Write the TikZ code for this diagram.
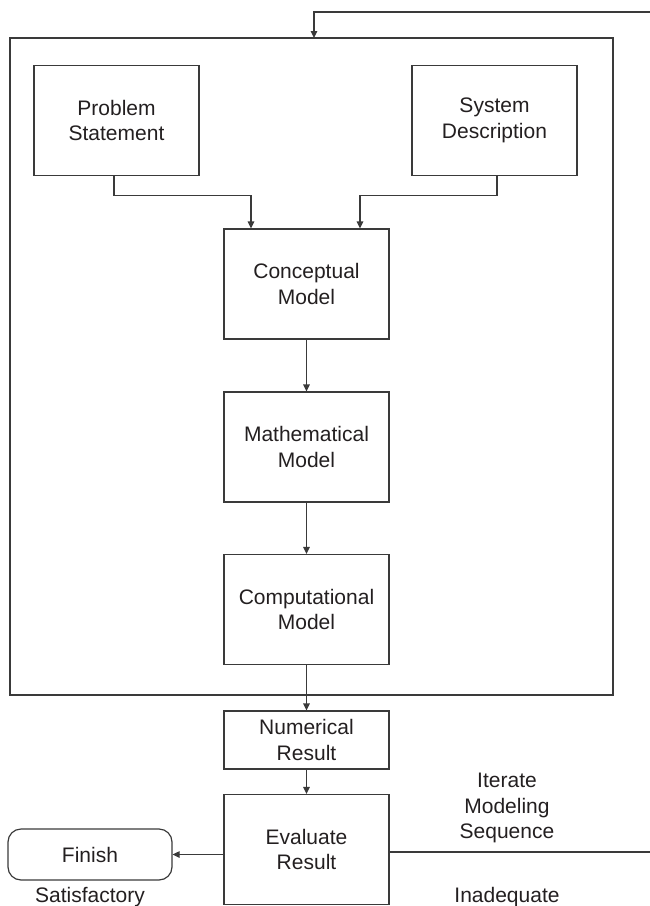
\documentclass[tikz,border=0pt]{standalone}
\usepackage{fontspec}
\setmainfont{Liberation Sans}
\usetikzlibrary{arrows.meta}
\definecolor{ink}{HTML}{231F20}
\definecolor{wire}{HTML}{3A3A3A}
\begin{document}
\begin{tikzpicture}[x=1pt,y=-1pt,
  every node/.style={text=ink,font=\fontsize{21}{25.5}\selectfont},
  stage/.style={draw=wire,line width=1.2pt,align=center,inner sep=0pt,
    minimum width=165pt,minimum height=110pt},
  short/.style={stage,minimum height=58pt},
  terminal/.style={stage,rounded corners=13pt,minimum width=164pt,minimum height=51pt},
  flow/.style={draw=wire,line width=1.2pt,-{Triangle[length=7pt,width=6.5pt]}},
  plain/.style={draw=wire,line width=1.2pt},
  caption/.style={align=center,inner sep=0pt}]
\useasboundingbox (0,0) rectangle (650,906);

% enclosing frame of the modelling sequence
\node[draw=wire,line width=1.2pt,inner sep=0pt,minimum width=603pt,minimum height=657pt]
  (frame) at (311.5,366.5) {};

% stages
\node[stage] (prob) at (116.5,120.5) {Problem\\Statement};
\node[stage] (sys)  at (494.5,120.5) {System\\Description};
\node[stage] (conc) at (306.5,284)   {Conceptual\\Model};
\node[stage] (math) at (306.5,447)   {Mathematical\\Model};
\node[stage] (comp) at (306.5,609.5) {Computational\\Model};
\node[short] (num)  at (306.5,740)   {Numerical\\Result};
\node[stage] (eval) at (306.5,849.5) {Evaluate\\Result};
\node[terminal] (fin) at (90,854.5)  {Finish};

% labels
\node[caption] (iter) at (507,808) {Iterate\\Modeling\\Sequence};
\node[caption] (inad) at (507,897) {Inadequate};
\node[caption] (sat)  at (90,897)  {Satisfactory};

% free ends of the feedback loop
\coordinate (loopin)  at (650,12);
\coordinate (loopout) at (650,852);
\coordinate (drop)    at (314,38);

% connectors
\draw[flow] ([xshift=-2.5pt]prob.south) -- ++(0,19) -| ([xshift=-55.5pt]conc.north);
\draw[flow] ([xshift=2.5pt]sys.south) -- ++(0,19) -| ([xshift=53.5pt]conc.north);
\draw[flow] (conc) -- (math);
\draw[flow] (math) -- (comp);
\draw[flow] (comp) -- (num);
\draw[flow] (num) -- (eval);
\draw[flow] (eval.west |- fin.east) -- (fin.east);
\draw[plain] (eval.east |- loopout) -- (loopout);
\draw[flow] (loopin) -| (drop);
\end{tikzpicture}
\end{document}
